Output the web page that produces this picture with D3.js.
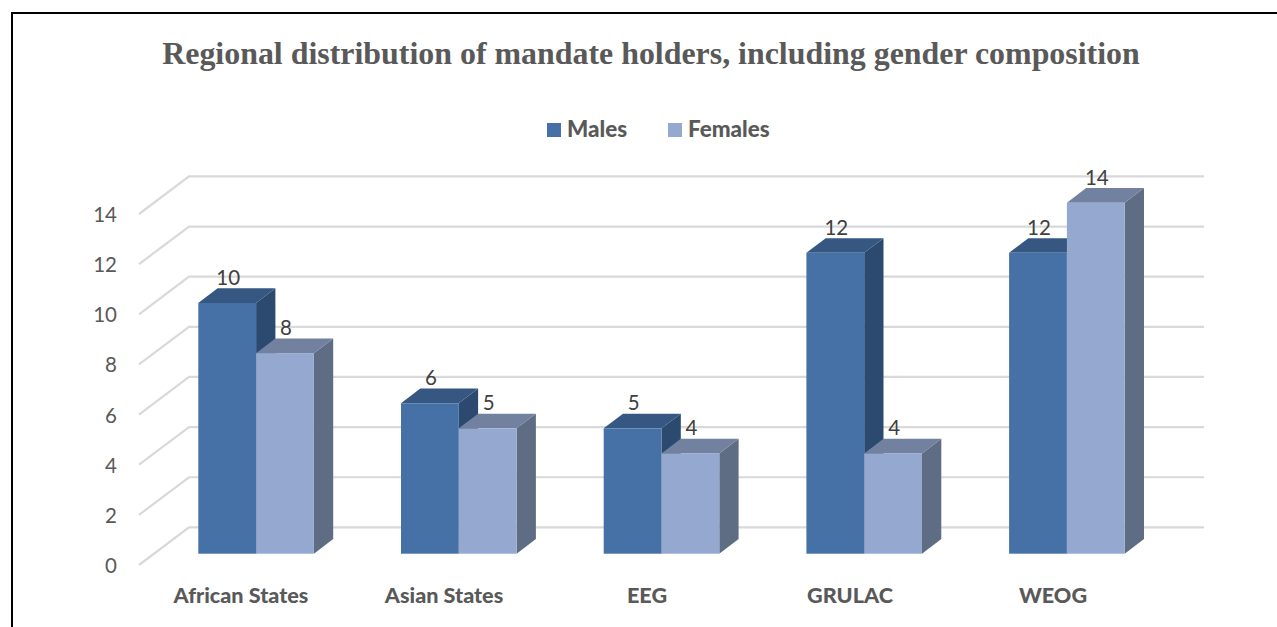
<!DOCTYPE html>
<html>
<head>
<meta charset="utf-8">
<script src="https://cdn.jsdelivr.net/npm/d3@7"></script>
<style>
  html, body { margin: 0; padding: 0; background: #fff; overflow: hidden; }
</style>
</head>
<body>
<svg id="chart" width="1277" height="627"></svg>
<script>
const categories = ["African States", "Asian States", "EEG", "GRULAC", "WEOG"];
const seriesNames = ["Males", "Females"];
const males = [10, 6, 5, 12, 12];
const females = [8, 5, 4, 4, 14];
const yTicks = [0, 2, 4, 6, 8, 10, 12, 14];

const svg = d3.select("#chart");

const colors = {
  Males: { front: "#4571a6", top: "#355782", side: "#2c4a70" },
  Females: { front: "#95a9d0", top: "#72819f", side: "#5e6c84" }
};

// 3D offsets: wall depth and bar depth
const wall = { dx: 50, dy: -37.6 };
const depth = { dx: 19.3, dy: -14.7 };

const y = d3.scaleLinear().domain([0, 14]).range([565, 214]);
const yBar = d3.scaleLinear().domain([0, 14]).range([553.7, 202.7]);

const xAxisScale = d3.scaleBand().domain(categories).range([139, 1154]);
const x0 = d3.scaleBand()
  .domain(categories)
  .range([154.75, 1168.25])
  .paddingInner(0.4297)
  .paddingOuter(0.21485);
const x1 = d3.scaleBand().domain(seriesNames).range([0, x0.bandwidth()]);

const rows = categories.map((c, i) => ({
  category: c,
  values: [
    { name: "Males", value: males[i] },
    { name: "Females", value: females[i] }
  ]
}));

// page border
svg.append("path")
  .attr("d", "M12,627V13H1277")
  .attr("fill", "none")
  .attr("stroke", "#000")
  .attr("stroke-width", 2);

svg.append("text")
  .attr("x", 651)
  .attr("y", 63.5)
  .attr("text-anchor", "middle")
  .attr("font-family", "'Liberation Serif', serif")
  .attr("font-weight", "bold")
  .attr("font-size", "31.9px")
  .attr("fill", "#595959")
  .text("Regional distribution of mandate holders, including gender composition");

// legend
const legendX = { Males: 547, Females: 668 };
const legend = svg.selectAll(".legend")
  .data(seriesNames)
  .enter()
  .append("g")
  .attr("class", "legend")
  .attr("transform", d => `translate(${legendX[d]},123)`);

legend.append("rect")
  .attr("width", 14)
  .attr("height", 14)
  .attr("fill", d => colors[d].front);

legend.append("text")
  .attr("x", 20)
  .attr("y", 14)
  .attr("font-family", "Lato, sans-serif")
  .attr("font-weight", 900)
  .attr("font-size", "22.4px")
  .attr("fill", "#595959")
  .text(d => d);

// gridlines, front end to back wall
const line = d3.line();
svg.append("g")
  .selectAll("path")
  .data(yTicks)
  .enter()
  .append("path")
  .attr("d", d => line([
    [139, y(d)],
    [139 + wall.dx, y(d) + wall.dy],
    [1204, y(d) + wall.dy]
  ]))
  .attr("fill", "none")
  .attr("stroke", "#d9d9d9")
  .attr("stroke-width", 2.2);

// axes
const yAxis = svg.append("g")
  .attr("transform", "translate(139,1)")
  .call(d3.axisLeft(y).tickValues(yTicks).tickSize(0).tickPadding(22));
yAxis.select(".domain").remove();
yAxis.selectAll("text")
  .attr("font-family", "Lato, sans-serif")
  .attr("font-size", "20.5px")
  .attr("fill", "#595959");

const xAxis = svg.append("g")
  .attr("transform", "translate(0.5,584)")
  .call(d3.axisBottom(xAxisScale).tickSize(0).tickPadding(4));
xAxis.select(".domain").remove();
xAxis.selectAll("text")
  .attr("font-family", "Lato, sans-serif")
  .attr("font-weight", 900)
  .attr("font-size", "21.6px")
  .attr("fill", "#595959");

// bars
const groups = svg.selectAll(".group")
  .data(rows)
  .enter()
  .append("g")
  .attr("class", "group")
  .attr("transform", d => `translate(${x0(d.category)},0)`);

const bars = groups.selectAll(".bar")
  .data(d => d.values)
  .enter()
  .append("g")
  .attr("class", "bar");

bars.append("path")
  .attr("fill", d => colors[d.name].side)
  .attr("d", d => {
    const r = x1(d.name) + x1.bandwidth();
    return line([
      [r, yBar(d.value)],
      [r + depth.dx, yBar(d.value) + depth.dy],
      [r + depth.dx, yBar(0) + depth.dy],
      [r, yBar(0)]
    ]) + "Z";
  });

bars.append("path")
  .attr("fill", d => colors[d.name].top)
  .attr("d", d => {
    const l = x1(d.name);
    const r = l + x1.bandwidth();
    const t = yBar(d.value);
    return line([
      [l, t],
      [l + depth.dx, t + depth.dy],
      [r + depth.dx, t + depth.dy],
      [r, t]
    ]) + "Z";
  });

bars.append("rect")
  .attr("x", d => x1(d.name))
  .attr("y", d => yBar(d.value))
  .attr("width", x1.bandwidth())
  .attr("height", d => yBar(0) - yBar(d.value))
  .attr("fill", d => colors[d.name].front);

// value labels go on top of every bar
groups.selectAll(".value")
  .data(d => d.values)
  .enter()
  .append("text")
  .attr("class", "value")
  .attr("x", d => x1(d.name) + x1.bandwidth() / 2 + 1)
  .attr("y", d => yBar(d.value) - 18)
  .attr("text-anchor", "middle")
  .attr("font-family", "Lato, sans-serif")
  .attr("font-size", "20.5px")
  .attr("fill", "#404040")
  .text(d => d.value);
</script>
</body>
</html>
